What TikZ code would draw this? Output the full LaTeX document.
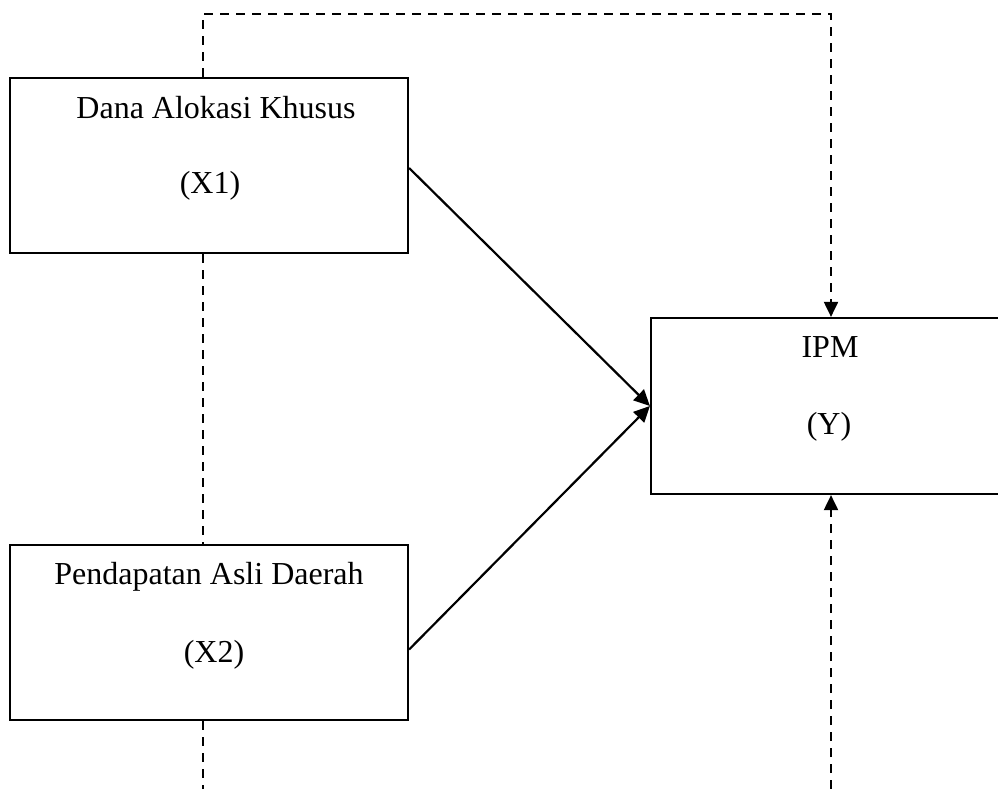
\documentclass[tikz,border=0pt]{standalone}
\usepackage{fontspec}
\setmainfont{Liberation Serif}
\usetikzlibrary{arrows.meta}
\begin{document}
\begin{tikzpicture}[x=1pt,y=-1pt,
  box/.style={draw,line width=2.2pt,rectangle,inner sep=0pt,minimum width=398pt,minimum height=175pt},
  ybox/.style={draw,line width=2.2pt,rectangle,inner sep=0pt,minimum width=360pt,minimum height=176pt},
  lbl/.style={anchor=base,inner sep=0pt,font=\fontsize{32}{38}\selectfont},
  dashline/.style={line width=2pt,dash pattern=on 9pt off 7pt},
  solid arrow/.style={line width=2.2pt,-{Triangle[length=16pt,width=15pt]}},
  tip/.style={-{Triangle[length=15pt,width=14pt]}}]
\useasboundingbox (0,0) rectangle (998,789);
\clip (0,0) rectangle (998,789);
\node[box] (x1) at (209,165.5) {};
\node[box] (x2) at (209,632.5) {};
\node[ybox] (y) at (831,406) {};
\node[lbl] (t1a) at (216,119) {Dana Alokasi Khusus};
\node[lbl] (t1b) at (210,193) {(X1)};
\node[lbl] (t2a) at (209,584) {Pendapatan Asli Daerah};
\node[lbl] (t2b) at (214,662) {(X2)};
\node[lbl] (tya) at (830,357) {IPM};
\node[lbl] (tyb) at (829,434) {(Y)};
\coordinate (c1) at (203,14);
\coordinate (c2) at (831,14);
\coordinate (c3) at (203,789);
\coordinate (c4) at (831,789);
\draw[dashline,tip] (x1.north -| c1) -- (c1) -- (c2) -- (y.north);
\draw[dashline] (x1.south -| c1) -- (x2.north -| c1);
\draw[dashline] (x2.south -| c1) -- (c3);
\draw[dashline,tip] (c4) -- (y.south);
\draw[solid arrow] ([yshift=-2.5pt]x1.east) -- (y.west);
\draw[solid arrow] ([yshift=-17pt]x2.east) -- (y.west);
\end{tikzpicture}
\end{document}
